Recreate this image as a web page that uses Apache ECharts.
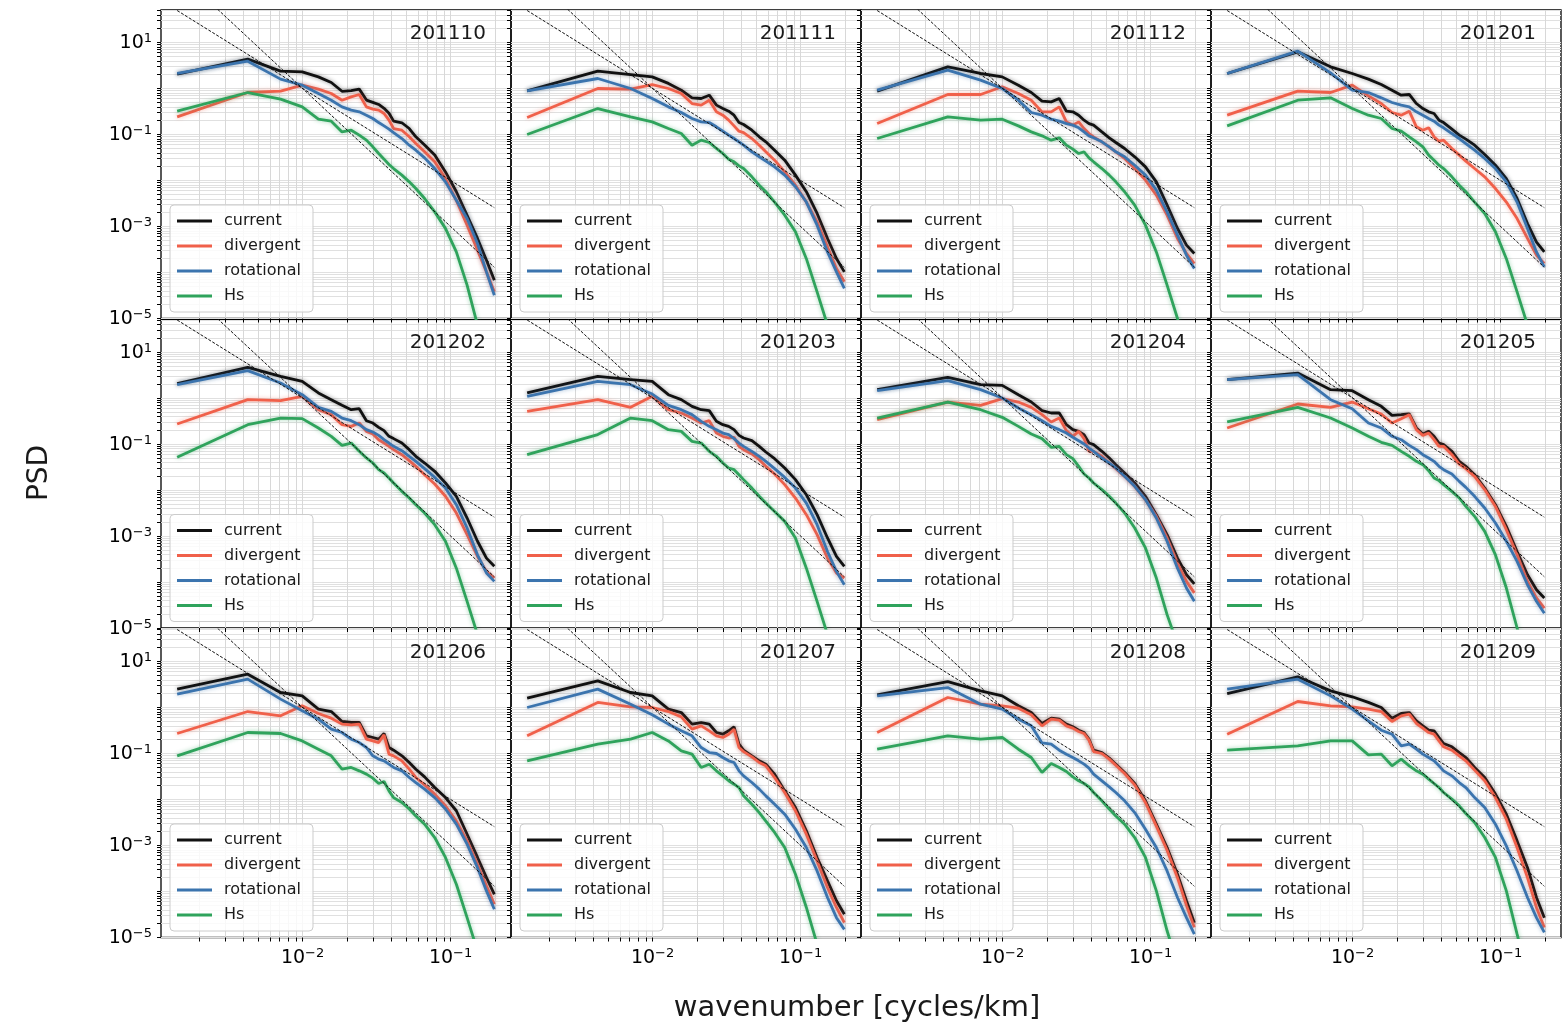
<!DOCTYPE html>
<html><head><meta charset="utf-8">
<script src="https://cdn.jsdelivr.net/npm/echarts@6/dist/echarts.min.js"></script>
<style>html,body{margin:0;padding:0;background:#fff;}#c{width:1562px;height:1027px;}</style>
</head><body><div id="c"></div>
<script>
// wavenumber [cycles/km]
const wavenumber = [0.00142,0.00426,0.0071,0.00994,0.01278,0.01562,0.01846,0.0213,0.02414,0.02698,0.02982,0.03266,0.0355,0.03834,0.04118,0.04686,0.05254,0.05822,0.06674,0.0781,0.0923,0.10934,0.12922,0.15194,0.17466,0.19738];
const months = ['201110','201111','201112','201201','201202','201203','201204','201205','201206','201207','201208','201209'];
const seriesNames = ['current','divergent','rotational','Hs'];
// reference slopes k^-2 and k^-3 (endpoints)
const refK = [0.00142, 0.19738];
const refSlope2 = [49.6, 2.57e-3];
const refSlope3 = [349, 1.3e-4];
// tick values
const xTickValues = [0.002,0.003,0.004,0.005,0.006,0.007,0.008,0.009,0.01,0.02,0.03,0.04,0.05,0.06,0.07,0.08,0.09,0.1,0.2];
const xLabelValues = [0.01, 0.1];
const yTickValues = [1e-5,2e-5,3e-5,4e-5,5e-5,6e-5,7e-5,8e-5,9e-5,1e-4,2e-4,3e-4,4e-4,5e-4,6e-4,7e-4,8e-4,9e-4,1e-3,2e-3,3e-3,4e-3,5e-3,6e-3,7e-3,8e-3,9e-3,0.01,0.02,0.03,0.04,0.05,0.06,0.07,0.08,0.09,0.1,0.2,0.3,0.4,0.5,0.6,0.7,0.8,0.9,1,2,3,4,5,6,7,8,9,10,20,30,40,50];
const yLabelValues = [1e-5, 1e-3, 0.1, 10];

const cur_201110 = [2.05,4.35,2.38,2.30,1.79,1.35,0.87,0.90,0.97,0.56,0.50,0.45,0.37,0.29,0.195,0.18,0.135,0.089,0.059,0.036,0.0154,5.7e-3,1.76e-3,5.5e-4,1.85e-4,6.8e-5];
const div_201110 = [0.242,0.818,0.875,1.18,0.968,0.778,0.557,0.659,0.741,0.399,0.356,0.338,0.286,0.205,0.135,0.124,0.089,0.0637,0.042,0.0255,0.011,3.7e-3,1.07e-3,3.06e-4,1.03e-4,3.8e-5];
const rot_201110 = [2.12,3.93,1.60,1.18,0.778,0.557,0.399,0.338,0.311,0.263,0.223,0.182,0.154,0.131,0.110,0.0818,0.0586,0.0456,0.0311,0.0182,9.35e-3,3.73e-3,1.49e-3,4.27e-4,1.03e-4,3.2e-5];
const hs_201110 = [0.321,0.818,0.586,0.399,0.215,0.195,0.114,0.124,0.0968,0.0754,0.054,0.0386,0.0291,0.0223,0.0182,0.0131,9.35e-3,6.7e-3,4.06e-3,2.08e-3,9.1e-4,2.8e-4,5.3e-5,7.2e-6,1e-6,1.6e-7];

const cur_201111 = [0.889,2.38,2.01,1.79,1.29,0.92,0.627,0.607,0.716,0.435,0.367,0.321,0.263,0.182,0.165,0.124,0.089,0.0693,0.0456,0.0277,0.0131,5.7e-3,1.92e-3,5.5e-4,2.01e-4,1.03e-4];
const div_201111 = [0.234,1.0,0.968,1.22,1.0,0.778,0.472,0.435,0.557,0.311,0.263,0.205,0.154,0.118,0.110,0.0818,0.0586,0.042,0.0277,0.0154,7.9e-3,3.4e-3,1.26e-3,3.6e-4,1.22e-4,6.3e-5];
const rot_201111 = [0.889,1.65,1.0,0.607,0.399,0.301,0.223,0.188,0.182,0.147,0.118,0.0968,0.0818,0.0693,0.0586,0.042,0.0327,0.0263,0.0198,0.0131,7.3e-3,3.4e-3,1.07e-3,2.8e-4,1.03e-4,4.5e-5];
const hs_201111 = [0.1,0.367,0.242,0.188,0.135,0.105,0.0586,0.0754,0.067,0.0497,0.0386,0.0291,0.0255,0.0208,0.0182,0.012,7.9e-3,5.7e-3,3.4e-3,1.76e-3,7.7e-4,2.0e-4,3.8e-5,7.2e-6,1.3e-6,3.2e-7];

const cur_201112 = [0.875,2.96,2.12,1.79,1.18,0.818,0.531,0.513,0.607,0.321,0.311,0.263,0.205,0.173,0.160,0.114,0.0847,0.067,0.0497,0.0327,0.0198,9.35e-3,2.91e-3,9.06e-4,3.93e-4,2.59e-4];
const div_201112 = [0.173,0.741,0.741,1.09,0.778,0.557,0.311,0.311,0.399,0.188,0.160,0.188,0.135,0.105,0.089,0.0693,0.054,0.042,0.0301,0.0182,0.0102,4.8e-3,1.76e-3,5.5e-4,2.59e-4,1.57e-4];
const rot_201112 = [0.92,2.51,1.52,1.0,0.557,0.301,0.263,0.215,0.195,0.173,0.160,0.140,0.114,0.0935,0.0847,0.0693,0.054,0.042,0.0327,0.0215,0.0131,6.2e-3,2.08e-3,6.5e-4,2.38e-4,1.22e-4];
const hs_201112 = [0.0818,0.242,0.205,0.215,0.154,0.114,0.0935,0.0754,0.0847,0.0586,0.048,0.0386,0.042,0.0311,0.0255,0.0182,0.0131,9.35e-3,5.7e-3,2.91e-3,1.07e-3,2.8e-4,5.3e-5,1e-5,1.6e-6,3.2e-7];

const cur_201201 = [2.12,6.27,2.96,2.12,1.60,1.22,0.92,0.716,0.741,0.472,0.367,0.311,0.286,0.205,0.182,0.131,0.0968,0.0793,0.0586,0.0367,0.0215,0.011,4.06e-3,1.16e-3,4.6e-4,2.8e-4];
const div_201201 = [0.263,0.875,0.818,1.18,0.693,0.472,0.301,0.263,0.321,0.147,0.124,0.140,0.089,0.0716,0.0754,0.0497,0.0356,0.0263,0.0182,0.012,6.7e-3,3.4e-3,1.49e-3,5.5e-4,2.38e-4,1.57e-4];
const rot_201201 = [2.12,6.49,2.19,0.92,0.818,0.627,0.497,0.435,0.399,0.311,0.263,0.223,0.195,0.160,0.140,0.105,0.0818,0.0637,0.0456,0.0301,0.0182,9.35e-3,3.4e-3,9.06e-4,2.8e-4,1.33e-4];
const hs_201201 = [0.154,0.557,0.627,0.367,0.263,0.223,0.135,0.118,0.089,0.0693,0.054,0.0356,0.0277,0.0215,0.0182,0.012,7.9e-3,5.7e-3,3.4e-3,1.92e-3,7.7e-4,2.0e-4,3.8e-5,7.2e-6,1.3e-6,3.2e-7];

const cur_201202 = [2.05,4.65,2.96,2.30,1.29,0.92,0.693,0.557,0.586,0.321,0.286,0.230,0.195,0.147,0.131,0.105,0.0754,0.054,0.0386,0.0255,0.0142,7.3e-3,2.46e-3,7.7e-4,3.3e-4,2.19e-4];
const div_201202 = [0.272,0.92,0.875,1.09,0.557,0.435,0.263,0.242,0.286,0.188,0.165,0.124,0.105,0.089,0.0754,0.0586,0.0435,0.0327,0.0215,0.0135,7.3e-3,3.16e-3,1.07e-3,3.6e-4,1.7e-4,1.22e-4];
const rot_201202 = [1.95,3.93,2.12,1.18,0.627,0.513,0.367,0.321,0.263,0.205,0.182,0.154,0.124,0.105,0.089,0.0716,0.054,0.042,0.0291,0.0188,0.011,4.8e-3,1.49e-3,3.9e-4,1.57e-4,1.03e-4];
const hs_201202 = [0.0513,0.263,0.367,0.356,0.223,0.147,0.0935,0.105,0.0693,0.0497,0.0386,0.0277,0.0234,0.0182,0.0142,9.35e-3,6.7e-3,4.8e-3,3.16e-3,1.76e-3,7.7e-4,2.0e-4,3.8e-5,7.2e-6,1.3e-6,3.2e-7];

const cur_201203 = [1.29,2.96,2.51,2.30,1.18,0.92,0.659,0.557,0.531,0.311,0.263,0.242,0.205,0.154,0.135,0.118,0.089,0.067,0.048,0.0301,0.0168,7.9e-3,2.91e-3,9.06e-4,3.6e-4,2.19e-4];
const div_201203 = [0.513,0.92,0.627,1.09,0.557,0.472,0.367,0.286,0.321,0.173,0.147,0.135,0.140,0.089,0.0754,0.0607,0.0456,0.0327,0.0223,0.0131,6.7e-3,2.91e-3,1.07e-3,3.3e-4,1.57e-4,1.22e-4];
const rot_201203 = [1.09,2.30,1.95,1.22,0.693,0.557,0.435,0.311,0.242,0.205,0.173,0.160,0.131,0.105,0.089,0.0693,0.054,0.042,0.0291,0.0188,0.011,5.2e-3,1.76e-3,4.6e-4,1.7e-4,8.7e-5];
const hs_201203 = [0.0586,0.160,0.367,0.321,0.205,0.188,0.114,0.105,0.0693,0.054,0.0386,0.0301,0.0277,0.0215,0.0168,0.011,7.3e-3,5.2e-3,3.4e-3,2.08e-3,9.06e-4,2.0e-4,3.8e-5,7.2e-6,1.3e-6,3.2e-7];

const cur_201204 = [1.52,2.81,1.95,1.88,1.18,0.818,0.531,0.472,0.472,0.263,0.205,0.188,0.160,0.105,0.0968,0.0693,0.0497,0.0356,0.0234,0.0142,7.3e-3,2.91e-3,1.07e-3,3.3e-4,1.44e-4,9.1e-5];
const div_201204 = [0.338,0.818,0.693,0.968,0.818,0.627,0.435,0.301,0.367,0.195,0.147,0.188,0.131,0.0693,0.0693,0.054,0.0386,0.0291,0.0198,0.012,6.2e-3,2.68e-3,9.06e-4,2.59e-4,1.03e-4,5.8e-5];
const rot_201204 = [1.44,2.38,1.52,1.0,0.607,0.435,0.321,0.242,0.205,0.173,0.140,0.118,0.1,0.0818,0.0693,0.0497,0.0386,0.0301,0.0198,0.012,6.2e-3,2.46e-3,7.7e-4,2.0e-4,7.4e-5,3.8e-5];
const hs_201204 = [0.367,0.818,0.557,0.380,0.242,0.165,0.131,0.0847,0.089,0.0586,0.048,0.0327,0.0223,0.0182,0.0142,0.0102,7.3e-3,5.2e-3,3.16e-3,1.49e-3,5.5e-4,1.22e-4,1.95e-5,4.4e-6,1e-6,2.5e-7];

const cur_201205 = [2.51,3.49,1.52,1.44,0.92,0.659,0.42,0.435,0.449,0.223,0.165,0.188,0.147,0.105,0.0968,0.0693,0.042,0.0327,0.0215,0.011,4.8e-3,1.62e-3,4.6e-4,1.44e-4,6.8e-5,4.5e-5];
const div_201205 = [0.223,0.741,0.627,0.818,0.586,0.449,0.286,0.356,0.435,0.205,0.154,0.173,0.124,0.089,0.089,0.0586,0.0367,0.0291,0.0198,0.0102,4.4e-3,1.37e-3,3.9e-4,1.03e-4,4.5e-5,2.7e-5];
const rot_201205 = [2.51,3.21,0.92,0.586,0.286,0.223,0.147,0.124,0.0935,0.0754,0.0586,0.0497,0.042,0.0327,0.0277,0.0223,0.0154,0.0114,7.3e-3,4.06e-3,1.92e-3,7.7e-4,2.8e-4,8.7e-5,3.8e-5,2.1e-5];
const hs_201205 = [0.301,0.627,0.367,0.223,0.147,0.109,0.0935,0.0693,0.054,0.042,0.0356,0.0263,0.0182,0.016,0.0131,9.35e-3,6.7e-3,4.4e-3,2.68e-3,1.26e-3,3.9e-4,7.4e-5,1e-5,1.6e-6,3.2e-7,1e-7];

const cur_201206 = [2.51,5.31,2.12,1.79,0.92,0.818,0.497,0.472,0.472,0.242,0.223,0.205,0.272,0.135,0.118,0.089,0.0637,0.0456,0.0311,0.0182,0.011,5.7e-3,1.76e-3,5.5e-4,2.0e-4,8.7e-5];
const div_201206 = [0.272,0.818,0.659,1.09,0.741,0.586,0.435,0.42,0.435,0.205,0.188,0.173,0.255,0.0968,0.089,0.0693,0.0456,0.0301,0.0208,0.0131,7.3e-3,3.4e-3,1.26e-3,3.9e-4,1.33e-4,5.3e-5];
const rot_201206 = [1.95,4.13,1.52,0.847,0.557,0.338,0.286,0.205,0.173,0.135,0.089,0.0754,0.0693,0.0586,0.0497,0.042,0.0301,0.0234,0.0168,0.011,6.2e-3,2.91e-3,1.07e-3,3.3e-4,1.03e-4,4.1e-5];
const hs_201206 = [0.089,0.286,0.272,0.188,0.124,0.089,0.0456,0.0497,0.042,0.0356,0.0291,0.0223,0.0246,0.0154,0.011,8.6e-3,6.2e-3,4.4e-3,2.91e-3,1.49e-3,5.5e-4,1.44e-4,2.7e-5,5.1e-6,1e-6,2.5e-7];

const cur_201207 = [1.60,3.80,2.12,1.79,0.92,0.778,0.435,0.472,0.435,0.286,0.263,0.311,0.38,0.160,0.118,0.089,0.0693,0.0586,0.0356,0.0154,6.7e-3,2.08e-3,5.5e-4,1.7e-4,6.3e-5,3.2e-5];
const div_201207 = [0.242,1.29,1.03,1.0,0.818,0.627,0.338,0.399,0.311,0.242,0.223,0.263,0.338,0.135,0.110,0.0847,0.0637,0.054,0.0301,0.0142,5.7e-3,1.76e-3,4.6e-4,1.22e-4,4.5e-5,2.1e-5];
const rot_201207 = [1.0,2.51,1.18,0.693,0.435,0.311,0.242,0.135,0.105,0.1,0.0818,0.0693,0.0637,0.042,0.0327,0.0234,0.0168,0.012,7.9e-3,4.8e-3,2.26e-3,9.06e-4,2.8e-4,7.4e-5,2.7e-5,1.5e-5];
const hs_201207 = [0.0693,0.160,0.205,0.286,0.188,0.114,0.0968,0.0497,0.0586,0.042,0.0327,0.0255,0.0215,0.0182,0.012,7.9e-3,5.2e-3,3.4e-3,1.92e-3,9.06e-4,2.38e-4,4.5e-5,7.2e-6,1.3e-6,3.2e-7,1e-7];

const cur_201208 = [1.88,3.67,2.30,1.79,1.09,0.778,0.449,0.586,0.557,0.435,0.38,0.321,0.286,0.205,0.118,0.105,0.0793,0.0586,0.0386,0.0223,9.35e-3,2.91e-3,9.06e-4,2.38e-4,6.3e-5,2.1e-5];
const div_201208 = [0.286,1.65,1.18,1.09,0.968,0.693,0.399,0.557,0.531,0.399,0.356,0.301,0.272,0.195,0.110,0.1,0.0754,0.0557,0.0367,0.0208,8.6e-3,2.63e-3,7.9e-4,2.0e-4,5.0e-5,1.66e-5];
const rot_201208 = [1.79,2.72,1.18,0.92,0.557,0.40,0.17,0.16,0.118,0.0968,0.0818,0.0693,0.0586,0.048,0.0356,0.0255,0.0188,0.0142,9.35e-3,5.2e-3,2.26e-3,9.06e-4,2.8e-4,7.4e-5,2.7e-5,1.18e-5];
const hs_201208 = [0.124,0.242,0.205,0.223,0.124,0.0818,0.0386,0.0607,0.0497,0.0406,0.0311,0.0255,0.0223,0.0188,0.0142,9.35e-3,6.2e-3,4.4e-3,2.91e-3,1.49e-3,5.5e-4,1.03e-4,1.4e-5,2.6e-6,6.3e-7,1.6e-7];

const cur_201209 = [2.01,4.65,2.30,1.71,1.29,1.0,0.586,0.741,0.778,0.513,0.399,0.321,0.311,0.223,0.165,0.140,0.105,0.0818,0.0497,0.0301,0.0131,4.8e-3,1.26e-3,3.3e-4,7.4e-5,2.7e-5];
const div_201209 = [0.263,1.35,1.09,1.03,0.92,0.818,0.497,0.659,0.716,0.449,0.356,0.286,0.263,0.188,0.140,0.118,0.089,0.0693,0.0435,0.0255,0.011,3.73e-3,9.06e-4,2.0e-4,4.5e-5,1.65e-5];
const rot_201209 = [2.51,4.13,1.79,0.92,0.513,0.321,0.263,0.147,0.160,0.124,0.0968,0.0818,0.0693,0.054,0.042,0.0327,0.0234,0.0182,0.011,6.7e-3,2.91e-3,9.8e-4,2.8e-4,7.4e-5,2.7e-5,1.29e-5];
const hs_201209 = [0.118,0.147,0.188,0.188,0.0935,0.0968,0.054,0.0754,0.054,0.042,0.0356,0.0277,0.0223,0.0182,0.0142,0.0102,7.3e-3,4.97e-3,3.16e-3,1.49e-3,5.5e-4,1.03e-4,1.18e-5,1.6e-6,4e-7,1e-7];

const panelData = [
  [cur_201110, div_201110, rot_201110, hs_201110],
  [cur_201111, div_201111, rot_201111, hs_201111],
  [cur_201112, div_201112, rot_201112, hs_201112],
  [cur_201201, div_201201, rot_201201, hs_201201],
  [cur_201202, div_201202, rot_201202, hs_201202],
  [cur_201203, div_201203, rot_201203, hs_201203],
  [cur_201204, div_201204, rot_201204, hs_201204],
  [cur_201205, div_201205, rot_201205, hs_201205],
  [cur_201206, div_201206, rot_201206, hs_201206],
  [cur_201207, div_201207, rot_201207, hs_201207],
  [cur_201208, div_201208, rot_201208, hs_201208],
  [cur_201209, div_201209, rot_201209, hs_201209]
];

const COLORS = ['#111111', '#f0604a', '#3b74ae', '#2fa35c'];
const FONT = 'DejaVu Sans';
const GL = [161, 511, 861, 1211], GT = [10, 319.5, 629], GW = 350, GH = 308.5;
const XMIN = 0.0011044, XMAX = 0.2559, YMIN = 1e-5, YMAX = 50.9;

const chart = echarts.init(document.getElementById('c'), null, {renderer: 'canvas'});
const fmtPow = v => {
  const e = Math.round(Math.log10(v));
  return '{b|10}{s|' + (e < 0 ? '\u2212' : '') + Math.abs(e) + '}';
};
const rich = {
  b: {fontSize: 19, fontFamily: FONT, color: '#000', lineHeight: 20, padding: [2, 0, 0, 0]},
  s: {fontSize: 13, fontFamily: FONT, color: '#000', lineHeight: 13, verticalAlign: 'top'}
};

const grids = [], xAxes = [], yAxes = [], series = [], legends = [], graphics = [];
for (let i = 0; i < 12; i++) {
  const r = Math.floor(i / 4), c = i % 4;
  grids.push({left: GL[c], top: GT[r], width: GW, height: GH, show: true,
    borderColor: '#000', borderWidth: 1.3, backgroundColor: 'rgba(0,0,0,0)'});
  xAxes.push({type: 'log', logBase: 10, gridIndex: i, min: XMIN, max: XMAX, position: 'bottom',
    axisLine: {show: false},
    axisTick: {show: true, customValues: xTickValues, length: 4, lineStyle: {color: '#000', width: 1}},
    axisLabel: {show: r === 2, customValues: xLabelValues, formatter: fmtPow, rich: rich, margin: 10},
    splitLine: {show: true, lineStyle: {color: '#d8d8d8', width: 1}}});
  yAxes.push({type: 'log', logBase: 10, gridIndex: i, min: YMIN, max: YMAX, position: 'left',
    axisLine: {show: false},
    axisTick: {show: true, customValues: yTickValues, length: 4, lineStyle: {color: '#000', width: 1}},
    axisLabel: {show: c === 0, customValues: yLabelValues, formatter: fmtPow, rich: rich, margin: 9},
    splitLine: {show: true, lineStyle: {color: '#e0e0e0', width: 1}}});
  const d = panelData[i];
  for (let s = 0; s < 4; s++) {
    series.push({name: seriesNames[s], type: 'line', xAxisIndex: i, yAxisIndex: i,
      data: wavenumber.map((k, j) => [k, d[s][j]]),
      symbol: 'none', clip: true, z: 3 + s,
      lineStyle: {color: COLORS[s], width: 2.8, shadowColor: COLORS[s] + '77', shadowBlur: 4},
      itemStyle: {color: COLORS[s]}});
  }
  [refSlope2, refSlope3].forEach(ref => {
    series.push({type: 'line', xAxisIndex: i, yAxisIndex: i,
      data: refK.map((k, j) => [k, ref[j]]), symbol: 'none', clip: true, z: 8, silent: true,
      lineStyle: {color: '#111', width: 1, type: [3, 1.6]}});
  });
  legends.push({data: seriesNames, orient: 'vertical', left: GL[c] + 9, top: GT[r] + 195,
    icon: 'rect', itemWidth: 35, itemHeight: 3, itemGap: 9, padding: [8, 12, 8, 7],
    backgroundColor: 'rgba(255,255,255,0.82)', borderColor: '#cccccc', borderWidth: 1, borderRadius: 4,
    selectedMode: false,
    textStyle: {fontFamily: FONT, fontSize: 16, color: '#1a1a1a', padding: [0, 0, 0, 7]}});
  graphics.push({type: 'text', x: GL[c] + GW - 25, y: GT[r] + 23.5, z: 50,
    style: {text: months[i], fontFamily: FONT, fontSize: 20, fill: '#1a1a1a', align: 'right', verticalAlign: 'middle'}});
}
graphics.push({type: 'text', x: 40, y: 473, rotation: Math.PI / 2,
  style: {text: 'PSD', fontFamily: FONT, fontSize: 28, fill: '#1a1a1a', align: 'center', verticalAlign: 'middle'}});
graphics.push({type: 'text', x: 857, y: 1008,
  style: {text: 'wavenumber [cycles/km]', fontFamily: FONT, fontSize: 29, fill: '#1a1a1a', align: 'center', verticalAlign: 'middle'}});

chart.setOption({
  animation: false,
  backgroundColor: '#ffffff',
  grid: grids, xAxis: xAxes, yAxis: yAxes, series: series, legend: legends, graphic: graphics
});
</script></body></html>
